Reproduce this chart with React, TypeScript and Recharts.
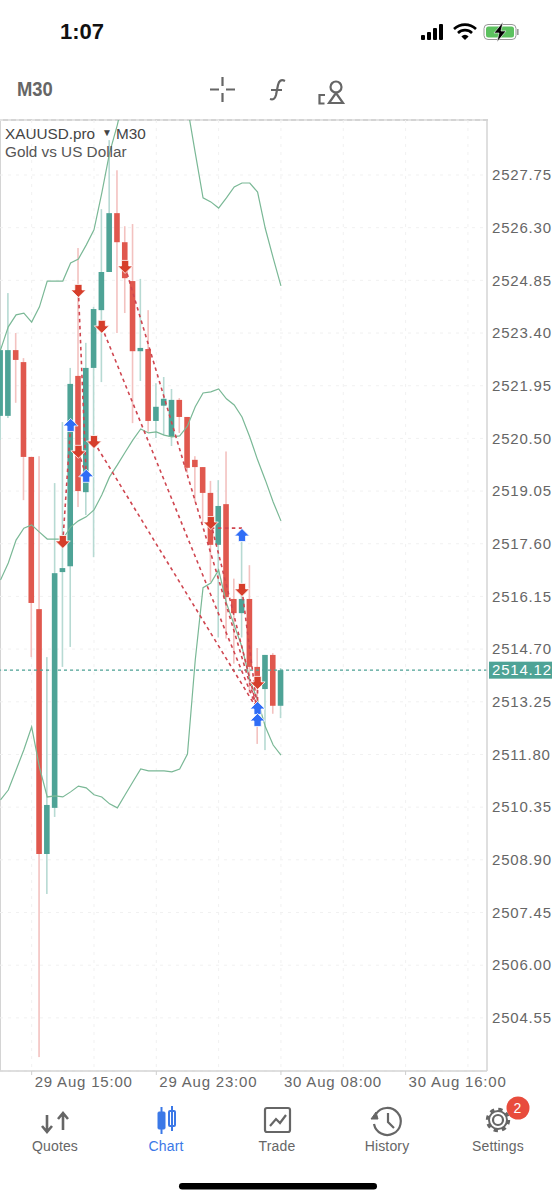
import React from "react";
import {
  ComposedChart, Bar, Line, Scatter, XAxis, YAxis, CartesianGrid, ReferenceLine,
} from "recharts";

const opens = [2521.12,2521.12,2522.93,2522.60,2519.99,2515.80,2509.06,2510.33,2516.82,2516.98,2522.22,2519.02,2522.44,2524.03,2525.08,2526.70,2525.90,2524.83,2522.90,2522.96,2520.98,2521.40,2520.54,2521.56,2521.09,2519.91,2519.71,2519.00,2517.57,2518.69,2516.08,2515.69,2516.08,2514.21,2513.60,2514.54,2513.14];
const closes = [2522.93,2522.93,2522.66,2519.99,2515.97,2509.06,2510.41,2516.79,2516.93,2522.00,2519.05,2522.44,2524.06,2525.08,2526.70,2525.90,2524.91,2522.90,2522.99,2520.98,2521.37,2521.59,2521.56,2521.09,2519.69,2519.71,2519.00,2517.57,2518.64,2516.13,2515.69,2516.08,2514.21,2513.85,2514.54,2513.14,2514.12];
const highs = [2523.06,2524.50,2523.40,2522.71,2519.99,2520.01,2514.48,2519.27,2520.95,2522.44,2525.74,2523.13,2524.12,2526.81,2528.71,2527.88,2526.34,2526.40,2524.89,2524.03,2522.02,2522.19,2521.86,2521.61,2521.09,2520.01,2519.71,2519.33,2519.35,2520.14,2516.64,2517.69,2517.01,2514.73,2514.54,2514.59,2514.18];
const lows = [2520.46,2521.06,2521.48,2518.80,2514.48,2503.47,2507.96,2510.08,2514.21,2514.76,2518.61,2518.39,2517.23,2522.05,2525.08,2523.40,2523.95,2520.92,2522.08,2520.68,2520.51,2520.59,2520.29,2520.65,2519.55,2518.75,2518.17,2516.55,2515.02,2514.99,2514.30,2515.02,2513.49,2512.09,2511.92,2512.92,2512.80];
const upperBand = [2522.93,2523.57,2523.90,2523.95,2523.70,2524.12,2524.83,2524.83,2524.83,2525.33,2525.44,2525.82,2526.24,2527.25,2528.36,2529.13,2530.09,2530.64,2531.05,2531.33,2531.47,2531.33,2531.05,2530.50,2529.62,2528.36,2527.12,2527.01,2526.84,2527.12,2527.42,2527.53,2527.53,2527.28,2526.27,2525.47,2524.70];
const middleBand = [2516.60,2517.07,2517.70,2518.03,2518.12,2517.92,2517.73,2517.73,2517.73,2518.06,2518.23,2518.34,2518.53,2518.94,2519.44,2519.77,2520.12,2520.46,2520.76,2520.65,2520.68,2520.59,2520.54,2520.57,2520.84,2521.37,2521.75,2521.78,2521.86,2521.59,2521.42,2521.09,2520.54,2519.91,2519.35,2518.75,2518.23];
const lowerBand = [2510.55,2510.82,2511.37,2511.93,2512.56,2511.45,2510.63,2510.66,2510.63,2510.77,2510.93,2510.88,2510.69,2510.63,2510.44,2510.33,2510.69,2511.05,2511.40,2511.35,2511.35,2511.35,2511.32,2511.40,2511.81,2514.40,2516.39,2516.52,2516.88,2515.97,2515.36,2514.76,2513.85,2513.30,2512.56,2512.06,2511.78];

const sellIndex = [8,10,10,13,12,16,27,31,33];
const sellPrice = [2517.65,2524.56,2520.13,2523.57,2520.40,2525.22,2518.17,2516.33,2513.77];
const buyIndex = [9,11,31,33,33];
const buyPrice = [2520.87,2519.47,2517.84,2513.08,2512.75];

const dashFromIndex = [8,10,10,12,13,16,27,27,31,33];
const dashFromPrice = [2517.65,2524.56,2520.13,2520.40,2523.57,2525.22,2518.17,2518.03,2516.33,2513.77];
const dashToIndex = [9,11,11,33,33,33,33,31,33,33];
const dashToPrice = [2520.87,2519.47,2519.47,2513.03,2513.03,2513.03,2513.03,2518.03,2513.03,2513.03];

const priceTicks = [2527.75,2526.30,2524.85,2523.40,2521.95,2520.50,2519.05,2517.60,2516.15,2514.70,2514.12,2513.25,2511.80,2510.35,2508.90,2507.45,2506.00,2504.55];
const lastPrice = 2514.12;
const timeTickIndex = [4,20,36,52];
const timeTickLabels = ["29 Aug 15:00","29 Aug 23:00","30 Aug 08:00","30 Aug 16:00"];
const timeGridIndex = [4,12,20,28,36,44,52,60];

const RED = "#e0584e";
const TEAL = "#4ea396";
const FONT = '"Liberation Sans", Arial, sans-serif';

const rows = opens.map((open, i) => ({
  i, open, close: closes[i], high: highs[i], low: lows[i],
  range: [lows[i], highs[i]],
  upper: upperBand[i], middle: middleBand[i], lower: lowerBand[i],
}));
const sells = sellIndex.map((i, k) => ({ i, y: sellPrice[k] }));
const buys = buyIndex.map((i, k) => ({ i, y: buyPrice[k] }));
const segments = dashFromIndex.map((i, k) => ({ a: { x: i, y: dashFromPrice[k] }, b: { x: dashToIndex[k], y: dashToPrice[k] } }));

const Candle = (props: any) => {
  const { x, y, width, height, payload } = props;
  const { open, close, high, low } = payload;
  const up = close >= open;
  const k = height / (high - low);
  const cx = x + width / 2;
  const top = y + (high - Math.max(open, close)) * k;
  const bh = Math.max(Math.abs(open - close) * k, 2);
  return (
    <g>
      <rect x={cx - 0.8} y={y} width={1.6} height={height} fill={up ? "#b7dad3" : "#f3c2c0"} />
      <rect x={cx - 2.8} y={top} width={5.6} height={bh} fill={up ? TEAL : RED} />
    </g>
  );
};

const DownArrow = (props: any) => {
  const { cx, cy } = props;
  const d = `M${cx - 3.6} ${cy - 6.5}H${cx + 3.6}V${cy - 1}H${cx + 7.5}L${cx} ${cy + 6.5}L${cx - 7.5} ${cy - 1}H${cx - 3.6}Z`;
  return <path d={d} fill="#d63e2b" stroke="#fff" strokeWidth={0.8} />;
};
const UpArrow = (props: any) => {
  const { cx, cy } = props;
  const d = `M${cx - 3.6} ${cy + 6.5}H${cx + 3.6}V${cy + 1}H${cx + 7.5}L${cx} ${cy - 6.5}L${cx - 7.5} ${cy + 1}H${cx - 3.6}Z`;
  return <path d={d} fill="#2f6df6" stroke="#fff" strokeWidth={0.8} />;
};

const PriceTick = (props: any) => {
  const { y, payload } = props;
  const isLast = payload.value === lastPrice;
  return (
    <g>
      {isLast && <rect x={489} y={y - 8.5} width={63} height={17} fill={TEAL} />}
      <text x={492} y={y} dy="0.35em" textAnchor="start" fontSize={15} letterSpacing={0.8}
        fontFamily={FONT} fill={isLast ? "#fff" : "#666"}>
        {payload.value.toFixed(2)}
      </text>
    </g>
  );
};

const TimeTick = (props: any) => {
  const { x, payload } = props;
  const idx = timeTickIndex.indexOf(payload.value);
  return (
    <text x={x + 3} y={1082} dy="0.35em" textAnchor="start" fontSize={15} letterSpacing={0.8}
      fontFamily={FONT} fill="#666">
      {timeTickLabels[idx]}
    </text>
  );
};

const abs = (left: number, top: number, extra: React.CSSProperties = {}): React.CSSProperties => ({
  position: "absolute", left, top, fontFamily: FONT, whiteSpace: "nowrap", lineHeight: 1, ...extra,
});

const tabs = [
  { label: "Quotes", cx: 55 },
  { label: "Chart", cx: 166 },
  { label: "Trade", cx: 277 },
  { label: "History", cx: 387 },
  { label: "Settings", cx: 498 },
];

const Chrome = () => (
  <>
    <div style={abs(60, 21, { fontSize: 22, fontWeight: 700, color: "#111" })}>1:07</div>
    <svg style={abs(0, 0)} width={555} height={1200} fill="none">
      <rect x={421} y={35} width={4} height={5} rx={1} fill="#000" />
      <rect x={427} y={32} width={4} height={8} rx={1} fill="#000" />
      <rect x={433} y={28} width={4} height={12} rx={1} fill="#000" />
      <rect x={439} y={24} width={4} height={16} rx={1} fill="#000" />
      <path d="M454 29a16 16 0 0 1 22 0" stroke="#000" strokeWidth={2.6} />
      <path d="M458 33a10 10 0 0 1 14 0" stroke="#000" strokeWidth={2.6} />
      <path d="M465 40l-3.6-3.6a5 5 0 0 1 7.2 0z" fill="#000" />
      <rect x={484} y={24.5} width={32} height={15} rx={4} stroke="#999" strokeWidth={1} />
      <rect x={486} y={26.5} width={28} height={11} rx={2.5} fill="#5cc15f" />
      <rect x={517} y={29} width={1.6} height={6} fill="#999" />
      <path d="M503 22l-9 11h5l-2 9 9-11h-5z" fill="#000" stroke="#fff" strokeWidth={0.6} />
      <g stroke="#666" strokeWidth={2.2}>
        <path d="M210 89.5h9M226 89.5h9M222.5 77v9M222.5 93v9" />
        <path d="M285 81c-4-2-6 0-7 4l-2 10c-1 4-3 5-6 4M271 90h11" />
        <path d="M325 95h-5.5v8.5h5" />
        <circle cx={336} cy={87} r={5.5} />
        <path d="M336 93l-7 10h14z" />
      </g>
      <g stroke="#666" strokeWidth={2.6}>
        <path d="M47 1115v17M42 1126l5 6 5-6" />
        <path d="M63 1130v-17M58 1119l5-6 5 6" />
        <rect x={265} y={1108} width={25} height={24} rx={2} strokeWidth={2.2} />
        <path d="M270 1126l6-7 4 4 6-8" strokeWidth={2.2} />
        <path d="M376 1114a13.5 13.5 0 1 1-2 10" strokeWidth={2.2} />
        <path d="M371 1119l5-7 2 7z" fill="#666" strokeWidth={1} />
        <path d="M388 1113v9l6 6" strokeWidth={2.2} />
        <circle cx={498} cy={1120} r={5} strokeWidth={2.2} />
        <circle cx={498} cy={1120} r={10.5} strokeWidth={3.4} strokeDasharray="4.2 4.04" />
        <circle cx={498} cy={1120} r={9} strokeWidth={2} />
      </g>
      <g fill="#3b78e7" stroke="#3b78e7">
        <rect x={158} y={1112} width={7} height={17} rx={1} />
        <path d="M161.5 1107v27" strokeWidth={2} />
        <rect x={169} y={1111} width={6} height={15} rx={1} fill="#fff" strokeWidth={2} />
        <path d="M172 1106v25" strokeWidth={2} />
      </g>
      <circle cx={518} cy={1108} r={11.5} fill="#e84c3d" />
      <rect x={179} y={1183} width={198} height={6.5} rx={3.2} fill="#000" />
    </svg>
    <div style={abs(17, 79, { fontSize: 20, fontWeight: 700, color: "#666", transform: "scaleX(0.92)", transformOrigin: "left" })}>M30</div>
    <div style={abs(5, 125.5, { fontSize: 15.3, color: "#444" })}>XAUUSD.pro</div>
    <div style={abs(102, 128, { fontSize: 10, color: "#444" })}>▼</div>
    <div style={abs(116, 125.5, { fontSize: 15.3, color: "#444" })}>M30</div>
    <div style={abs(5, 144, { fontSize: 15.3, color: "#555" })}>Gold vs US Dollar</div>
    <div style={abs(513.5, 1101, { fontSize: 14, color: "#fff" })}>2</div>
    {tabs.map((t) => (
      <div key={t.label} style={abs(t.cx - 40, 1139, {
        width: 80, textAlign: "center", fontSize: 14, letterSpacing: 0.15,
        color: t.label === "Chart" ? "#3b78e7" : "#666",
      })}>{t.label}</div>
    ))}
  </>
);

export default function App() {
  return (
    <div style={{ position: "absolute", left: 0, top: 0, width: 555, height: 1200, background: "#fff", overflow: "hidden" }}>
      <div style={{ position: "absolute", left: 0, top: 119, width: 1, height: 952, background: "#d4d4d4" }} />
      <div style={{ position: "absolute", left: 0, top: 119, width: 488, height: 1.5, background: "#d4d4d4" }} />
      <div style={{ position: "absolute", left: 0, top: 0 }}>
        <ComposedChart width={555} height={1200} data={rows}
          margin={{ top: 120, right: 0, bottom: 99, left: 0 }}>
          <CartesianGrid stroke="#f1f1f1" strokeDasharray="3 5" verticalValues={timeGridIndex} />
          <XAxis dataKey="i" type="number" domain={[-0.064, 62.45]} allowDataOverflow
            ticks={timeTickIndex} tick={<TimeTick />} height={30} interval={0}
            axisLine={{ stroke: "#d4d4d4", strokeWidth: 1.5 }} tickLine={{ stroke: "#cfcfcf" }} tickSize={4} />
          <YAxis orientation="right" width={68} type="number" domain={[2503.087, 2529.264]} allowDataOverflow
            ticks={priceTicks} tick={<PriceTick />} interval={0}
            axisLine={{ stroke: "#d4d4d4", strokeWidth: 1.5 }} tickLine={false} />
          <Bar dataKey="range" barSize={8} shape={<Candle />} isAnimationActive={false} />
          <Line dataKey="upper" stroke="#7ab896" strokeWidth={1.2} dot={false} isAnimationActive={false} />
          <Line dataKey="middle" stroke="#7ab896" strokeWidth={1.2} dot={false} isAnimationActive={false} />
          <Line dataKey="lower" stroke="#7ab896" strokeWidth={1.2} dot={false} isAnimationActive={false} />
          <ReferenceLine y={lastPrice} stroke={TEAL} strokeDasharray="3 3" strokeWidth={1.2} />
          {segments.map((s, k) => (
            <ReferenceLine key={k} segment={[s.a, s.b]} stroke="#cf4650" strokeWidth={1.6} strokeDasharray="3.5 3.5" />
          ))}
          <Scatter data={sells} dataKey="y" shape={<DownArrow />} isAnimationActive={false} />
          <Scatter data={buys} dataKey="y" shape={<UpArrow />} isAnimationActive={false} />
        </ComposedChart>
      </div>
      <Chrome />
    </div>
  );
}
